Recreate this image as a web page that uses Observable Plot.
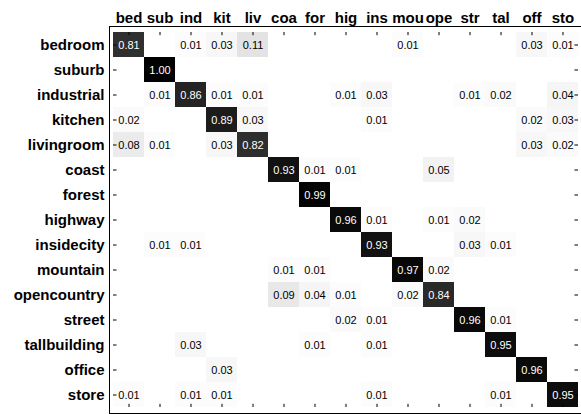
<!DOCTYPE html>
<html><head><meta charset="utf-8">
<script src="https://cdn.jsdelivr.net/npm/d3@7"></script>
<script src="https://cdn.jsdelivr.net/npm/@observablehq/plot@0.6"></script>
<style>
html,body{margin:0;padding:0;background:#fff;overflow:hidden;}
</style></head><body><div id="chart"></div>
<script>
const classes = ["bedroom","suburb","industrial","kitchen","livingroom","coast","forest","highway","insidecity","mountain","opencountry","street","tallbuilding","office","store"];
const colLabels = ["bed","sub","ind","kit","liv","coa","for","hig","ins","mou","ope","str","tal","off","sto"];
// rows: true class; columns in order of colLabels
const bedroom     = [0.81,0,0.01,0.03,0.11,0,0,0,0,0.01,0,0,0,0.03,0.01];
const suburb      = [0,1.00,0,0,0,0,0,0,0,0,0,0,0,0,0];
const industrial  = [0,0.01,0.86,0.01,0.01,0,0,0.01,0.03,0,0,0.01,0.02,0,0.04];
const kitchen     = [0.02,0,0,0.89,0.03,0,0,0,0.01,0,0,0,0,0.02,0.03];
const livingroom  = [0.08,0.01,0,0.03,0.82,0,0,0,0,0,0,0,0,0.03,0.02];
const coast       = [0,0,0,0,0,0.93,0.01,0.01,0,0,0.05,0,0,0,0];
const forest      = [0,0,0,0,0,0,0.99,0,0,0,0,0,0,0,0];
const highway     = [0,0,0,0,0,0,0,0.96,0.01,0,0.01,0.02,0,0,0];
const insidecity  = [0,0.01,0.01,0,0,0,0,0,0.93,0,0,0.03,0.01,0,0];
const mountain    = [0,0,0,0,0,0.01,0.01,0,0,0.97,0.02,0,0,0,0];
const opencountry = [0,0,0,0,0,0.09,0.04,0.01,0,0.02,0.84,0,0,0,0];
const street      = [0,0,0,0,0,0,0,0.02,0.01,0,0,0.96,0.01,0,0];
const tallbuilding= [0,0,0.03,0,0,0,0.01,0,0.01,0,0,0,0.95,0,0];
const office      = [0,0,0,0.03,0,0,0,0,0,0,0,0,0,0.96,0];
const store       = [0.01,0,0.01,0.01,0,0,0,0,0.01,0,0,0,0.01,0,0.95];

const rowArrays = [bedroom,suburb,industrial,kitchen,livingroom,coast,forest,highway,insidecity,mountain,opencountry,street,tallbuilding,office,store];
const data = [];
rowArrays.forEach((arr,i)=>arr.forEach((v,j)=>{ if(v>0) data.push({row:classes[i], col:classes[j], value:v}); }));

const W=581, H=414, mL=109, mR=0, mT=26, mB=1;
const bw=(W-mL-mR)/classes.length, bh=(H-mT-mB)/classes.length;
const tick=4;

const chart = Plot.plot({
  width:W, height:H, marginLeft:mL, marginRight:mR, marginTop:mT, marginBottom:mB,
  style:{fontFamily:"'Liberation Sans', Arial, Helvetica, sans-serif", background:"white", color:"black"},
  x:{domain:classes, padding:0, axis:null},
  y:{domain:classes, padding:0, axis:null},
  color:{type:"linear", domain:[0,1], range:["white","black"]},
  marks:[
    Plot.cell(data,{x:"col", y:"row", fill:"value", inset:0, shapeRendering:"crispEdges"}),
    Plot.text(data.filter(d=>d.value>0.5),{x:"col", y:"row", text:d=>d.value.toFixed(2), fill:"white", fontSize:11}),
    Plot.text(data.filter(d=>d.value<=0.5),{x:"col", y:"row", text:d=>d.value.toFixed(2), fill:"black", fontSize:11}),
    Plot.frame({stroke:"black"}),
    Plot.tickX(classes,{x:d=>d, y:()=>classes[0], insetBottom:bh-tick, stroke:"black"}),
    Plot.tickX(classes,{x:d=>d, y:()=>classes[classes.length-1], insetTop:bh-tick, stroke:"black"}),
    Plot.tickY(classes,{y:d=>d, x:()=>classes[0], insetRight:bw-tick, stroke:"black"}),
    Plot.tickY(classes,{y:d=>d, x:()=>classes[classes.length-1], insetLeft:bw-tick, stroke:"black"}),
    Plot.axisX({anchor:"top", tickSize:0, tickPadding:4, label:null, tickFormat:(d)=>colLabels[classes.indexOf(d)], fontSize:15, fontWeight:"bold"}),
    Plot.axisY({anchor:"left", tickSize:0, tickPadding:5, label:null, fontSize:15, fontWeight:"bold"})
  ]
});
document.getElementById("chart").appendChild(chart);
</script></body></html>
